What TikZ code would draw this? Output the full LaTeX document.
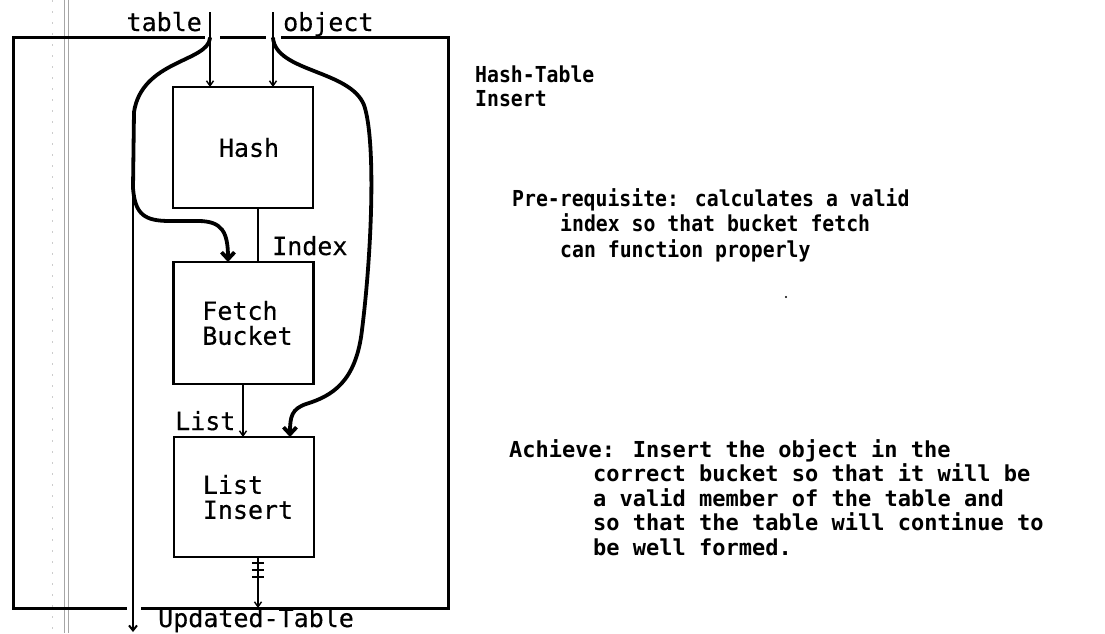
\documentclass[tikz,border=0pt]{standalone}
\usepackage{fontspec}
\usetikzlibrary{arrows.meta}
\newfontfamily\lblfont[FakeBold=0.4]{DejaVu Sans Mono}
\newfontfamily\rtfont[FakeStretch=0.9]{DejaVu Sans Mono}
\newfontfamily\rtwfont{DejaVu Sans Mono}
\begin{document}
\begin{tikzpicture}[x=1pt,y=-1pt,
  box/.style={draw, line width=2.2pt, minimum width=140pt, outer sep=0pt, inner sep=0pt,
              font=\fontsize{25}{25}\lblfont, align=left},
  lbl/.style={font=\fontsize{25}{25}\lblfont, inner sep=0pt},
  rt/.style={font=\fontsize{22}{25.5}\rtfont\bfseries, inner sep=0pt, align=left, anchor=base west},
  rtw/.style={font=\fontsize{22}{24.5}\rtwfont\bfseries, inner sep=0pt, align=left, anchor=base west},
  frame/.style={line width=3pt},
  thin/.style={line width=1.4pt, -{Straight Barb[length=5pt,width=7pt]}},
  thick/.style={line width=3.8pt, line cap=round},
  thickarrow/.style={thick, -{Straight Barb[length=7pt,width=13pt]}},
  scan/.style={gray!70, line width=0.9pt}]
\useasboundingbox (0,0) rectangle (1105,633);
% scan margin lines
\draw[scan] (64,0) -- (64,633);
\draw[scan] (68,0) -- (68,633);
\draw[gray!40, line width=0.6pt, dash pattern=on 2pt off 9pt] (52,0) -- (52,633);

% boxes
\node[box, minimum height=121pt] (hash) at (243,147.5) {\hspace*{12pt}Hash};
\node[box, minimum height=122pt] (fetch) at (243.5,323) {\hspace*{8pt}Fetch\\\hspace*{8pt}Bucket};
\node[box, minimum height=120pt] (ins) at (244,497) {\hspace*{8pt}List\\\hspace*{8pt}Insert};

% outer frame
\coordinate (fTL) at (13,37);
\coordinate (fTR) at (448,37);
\coordinate (fBL) at (13,608);
\coordinate (fBR) at (448,608);
\coordinate (g1a) at (203,37);
\coordinate (g1b) at (220,37);
\coordinate (g2a) at (266,37);
\coordinate (g2b) at (282,37);
\coordinate (g3a) at (125,608);
\coordinate (g3b) at (142,608);
\draw[frame, line cap=rect] (g1a) -- (fTL) -- (fBL) -- (g3a);
\draw[frame] (g1b) -- (g2a);
\draw[frame, line cap=rect] (g2b) -- (fTR) -- (fBR) -- (g3b);

% inputs
\coordinate (tIn) at (210,12);
\coordinate (oIn) at (273,12);
\draw[thin] (tIn) -- (hash.north -| tIn);
\draw[thin] (oIn) -- (hash.north -| oIn);
\node[lbl, anchor=base east] (tlab) at (202,31) {table};
\node[lbl, anchor=base west] (olab) at (283,31) {object};

% table curve
\coordinate (tS) at (210,38);
\coordinate (split) at (133,188);
\coordinate (tOut) at (133,632);
\coordinate (fIn) at (228,262);
\draw[thick] (tS) .. controls (208,62) and (142,60) .. (134,112) -- (split);
\draw[thickarrow] (split) .. controls (135,215) and (145,221) .. (170,221) -- (198,221)
   .. controls (222,221) and (228,232) .. (fIn |- fetch.north);
\draw[line width=2pt, -{Straight Barb[length=5pt,width=8pt]}] (split) -- (tOut);

% object curve
\coordinate (oS) at (273,38);
\coordinate (iIn) at (290,437);
\draw[thickarrow] (oS) .. controls (276,72) and (350,70) .. (364,105)
   .. controls (376,140) and (372,250) .. (362,330)
   .. controls (356,382) and (332,396) .. (306,404)
   .. controls (292,409) and (290,416) .. (iIn |- ins.north);

% index
\coordinate (ix) at (258,0);
\draw[line width=1.4pt] (hash.south -| ix) -- (fetch.north -| ix);
\node[lbl, anchor=base west] (ilab) at (272,255) {Index};

% list
\coordinate (lx) at (243,0);
\draw[thin] (fetch.south -| lx) -- (ins.north -| lx);
\node[lbl, anchor=base west] (llab) at (175,430) {List};

% output
\coordinate (ox) at (258,0);
\coordinate (oOut) at (258,608);
\draw[thin] (ins.south -| ox) -- (oOut);
\foreach \yy in {563,570,577} \draw[line width=1.6pt] (252,\yy) -- (264,\yy);
\node[lbl, anchor=base west] (ulab) at (158,627) {Updated-Table};

% right texts (anchor = baseline of last line)
\node[rt, font=\fontsize{22}{24}\rtfont\bfseries] (title) at (475,106) {Hash-Table\\Insert};
\node[rt] (pre) at (512,257) {Pre-requisite: calculates a valid\\
\hspace*{48pt}index so that bucket fetch\\
\hspace*{48pt}can function properly};
\node[rtw] (ach) at (509,555) {Achieve: Insert the object in the\\
\hspace*{84pt}correct bucket so that it will be\\
\hspace*{84pt}a valid member of the table and\\
\hspace*{84pt}so that the table will continue to\\
\hspace*{84pt}be well formed.};
\node[circle, fill=black, inner sep=0.8pt] (dot) at (786,297) {};
\end{tikzpicture}
\end{document}
